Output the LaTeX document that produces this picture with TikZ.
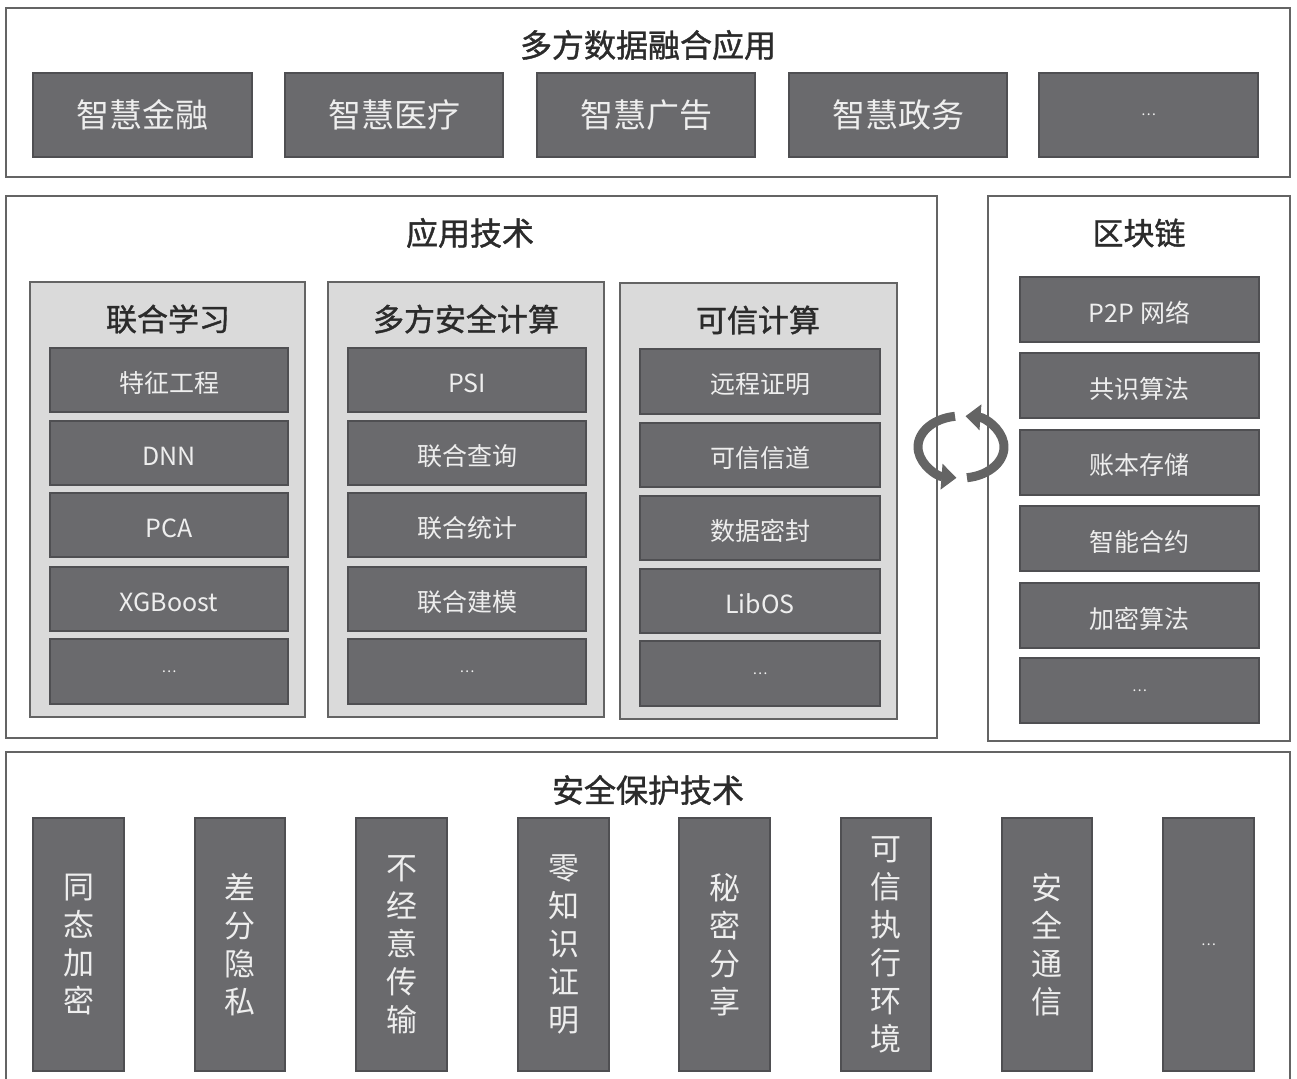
\documentclass[tikz,border=0pt]{standalone}
\usepackage{fontspec}
\setmainfont{Noto Sans CJK SC}
\newfontfamily\titlefont[FakeBold=1.2]{Noto Sans CJK SC}
\usetikzlibrary{arrows.meta}

\definecolor{boxgray}{HTML}{6A6A6D}
\definecolor{edgegray}{HTML}{4F4F52}
\definecolor{grpgray}{HTML}{DADADA}
\definecolor{linegray}{HTML}{646464}
\definecolor{txtlight}{HTML}{EEEEEE}
\definecolor{txtdark}{HTML}{2B2B2B}

\tikzset{
  panel/.style={draw=linegray,line width=2.5pt,fill=white},
  group/.style={draw=linegray,line width=2pt,fill=grpgray},
  item/.style={draw=edgegray,line width=1.5pt,fill=boxgray},
  itemtext/.style={text=txtlight,yshift=-3pt,font=\fontsize{25}{29}\selectfont},
  bigtext/.style={text=txtlight,font=\fontsize{33}{38}\selectfont},
  vtext/.style={text=txtlight,align=center,font=\fontsize{31}{38}\selectfont},
  title/.style={text=txtdark,font=\titlefont\fontsize{32}{36}\selectfont},
  subtitle/.style={text=txtdark,font=\titlefont\fontsize{31}{35}\selectfont},
  dots/.style={text=txtlight!75,font=\fontsize{14}{16}\selectfont},
  cycarrow/.style={draw=linegray,line width=9pt,-{Triangle[width=25pt,length=15pt]}},
}

\begin{document}
\begin{tikzpicture}[x=1pt,y=-1pt]
\useasboundingbox (0,0) rectangle (1297,1078);

% top layer
\draw[panel] (6,8) rectangle (1290,177);
\node[title] (tapp) at (648,45) {多方数据融合应用};

\draw[item] (33,73) rectangle node[bigtext] (a1) {智慧金融} (252,157);
\draw[item] (285,73) rectangle node[bigtext] (a2) {智慧医疗} (503,157);
\draw[item] (537,73) rectangle node[bigtext] (a3) {智慧广告} (755,157);
\draw[item] (789,73) rectangle node[bigtext] (a4) {智慧政务} (1007,157);
\draw[item] (1039,73) rectangle node[dots] (a5) {…} (1258,157);

% application techniques
\draw[panel] (6,196) rectangle (937,738);
\node[title] (ttech) at (470,233) {应用技术};

\draw[group] (30,282) rectangle (305,717);
\node[subtitle] (fl) at (168,319) {联合学习};
\draw[item] (50,348) rectangle node[itemtext] (fl1) {特征工程} (288,412);
\draw[item] (50,421) rectangle node[itemtext] (fl2) {DNN} (288,485);
\draw[item] (50,493) rectangle node[itemtext] (fl3) {PCA} (288,557);
\draw[item] (50,567) rectangle node[itemtext] (fl4) {XGBoost} (288,631);
\draw[item] (50,639) rectangle node[dots] (fl5) {…} (288,704);

\draw[group] (328,282) rectangle (604,717);
\node[subtitle] (mpc) at (466,319) {多方安全计算};
\draw[item] (348,348) rectangle node[itemtext] (mpc1) {PSI} (586,412);
\draw[item] (348,421) rectangle node[itemtext] (mpc2) {联合查询} (586,485);
\draw[item] (348,493) rectangle node[itemtext] (mpc3) {联合统计} (586,557);
\draw[item] (348,567) rectangle node[itemtext] (mpc4) {联合建模} (586,631);
\draw[item] (348,639) rectangle node[dots] (mpc5) {…} (586,704);

\draw[group] (620,283) rectangle (897,719);
\node[subtitle] (tc) at (758,320) {可信计算};
\draw[item] (640,349) rectangle node[itemtext] (tc1) {远程证明} (880,414);
\draw[item] (640,423) rectangle node[itemtext] (tc2) {可信信道} (880,487);
\draw[item] (640,496) rectangle node[itemtext] (tc3) {数据密封} (880,560);
\draw[item] (640,569) rectangle node[itemtext] (tc4) {LibOS} (880,633);
\draw[item] (640,641) rectangle node[dots] (tc5) {…} (880,706);

% blockchain
\draw[panel] (988,196) rectangle (1290,741);
\node[subtitle] (bc) at (1139,233) {区块链};
\draw[item] (1020,277) rectangle node[itemtext] (bc1) {P2P 网络} (1259,342);
\draw[item] (1020,353) rectangle node[itemtext] (bc2) {共识算法} (1259,418);
\draw[item] (1020,430) rectangle node[itemtext] (bc3) {账本存储} (1259,495);
\draw[item] (1020,506) rectangle node[itemtext] (bc4) {智能合约} (1259,571);
\draw[item] (1020,583) rectangle node[itemtext] (bc5) {加密算法} (1259,648);
\draw[item] (1020,658) rectangle node[dots] (bc6) {…} (1259,723);

% security layer
\draw[panel] (6,752) rectangle (1290,1082);
\node[title] (tsec) at (648,790) {安全保护技术};

\draw[item] (33,818) rectangle node[vtext] (s1) {同\\态\\加\\密} (124,1071);
\draw[item] (195,818) rectangle node[vtext] (s2) {差\\分\\隐\\私} (285,1071);
\draw[item] (356,818) rectangle node[vtext] (s3) {不\\经\\意\\传\\输} (447,1071);
\draw[item] (518,818) rectangle node[vtext] (s4) {零\\知\\识\\证\\明} (609,1071);
\draw[item] (679,818) rectangle node[vtext] (s5) {秘\\密\\分\\享} (770,1071);
\draw[item] (841,818) rectangle node[vtext] (s6) {可\\信\\执\\行\\环\\境} (931,1071);
\draw[item] (1002,818) rectangle node[vtext] (s7) {安\\全\\通\\信} (1092,1071);
\draw[item] (1163,818) rectangle node[dots] (s8) {…} (1254,1071);

% exchange between techniques and blockchain
\coordinate (cyc) at (961,447);
\draw[cycarrow] ([shift={(262:43 and 31)}]cyc) arc[start angle=262,end angle=96,x radius=43,y radius=31];
\draw[cycarrow] ([shift={(82:43 and 31)}]cyc) arc[start angle=82,end angle=-84,x radius=43,y radius=31];

\end{tikzpicture}
\end{document}
